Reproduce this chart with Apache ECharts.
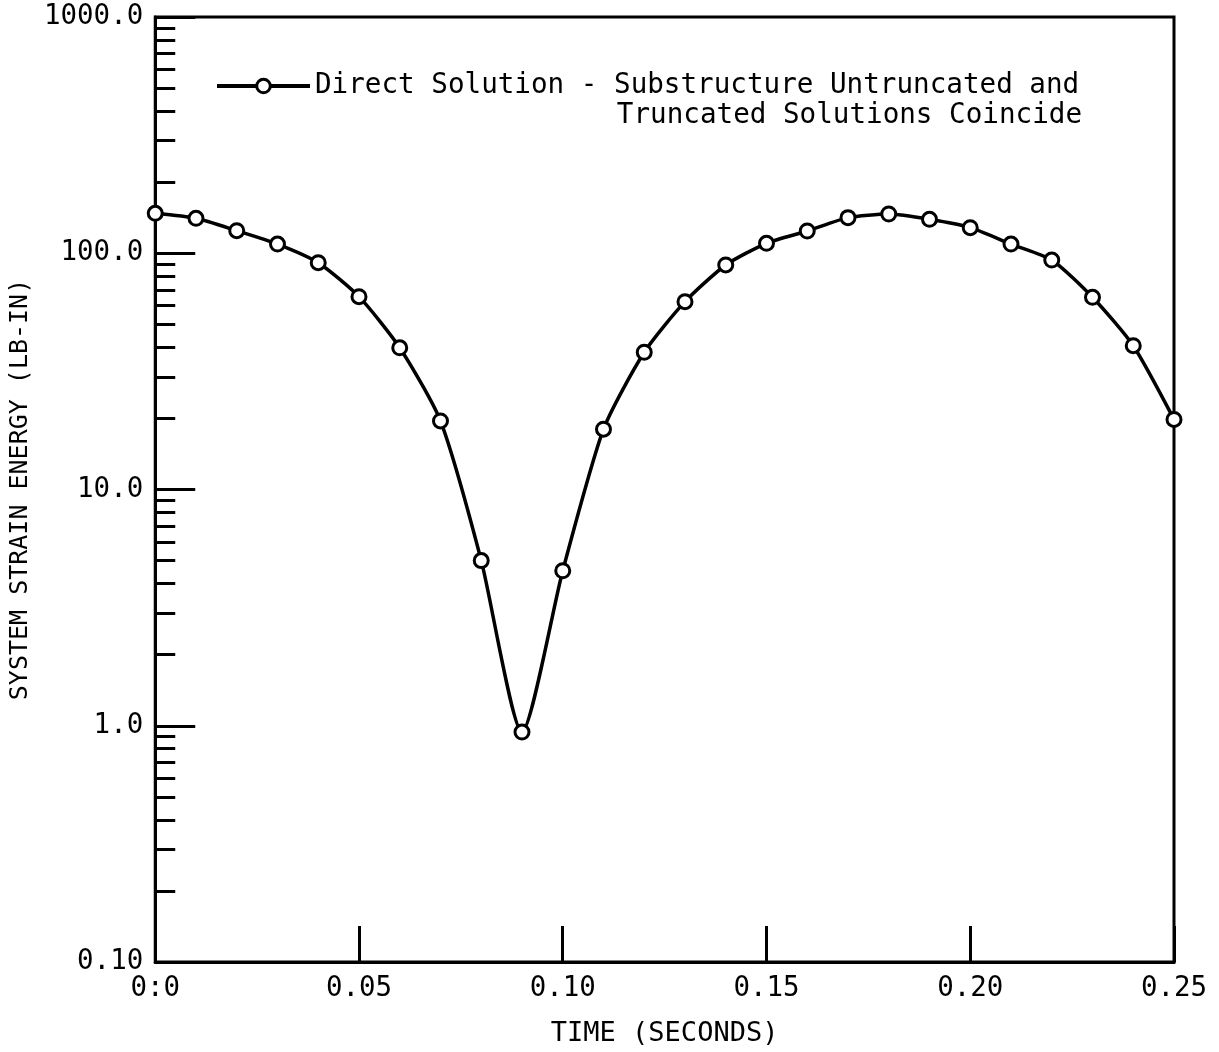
<!DOCTYPE html>
<html>
<head>
<meta charset="utf-8">
<script src="https://cdn.jsdelivr.net/npm/echarts@6/dist/echarts.min.js"></script>
<style>
html,body{margin:0;padding:0;background:#fff;}
#chart{width:1219px;height:1052px;}
</style>
</head>
<body>
<div id="chart"></div>
<script>
// ---- data ----
const timeValues = [0.00,0.01,0.02,0.03,0.04,0.05,0.06,0.07,0.08,0.09,0.10,0.11,0.12,0.13,0.14,0.15,0.16,0.17,0.18,0.19,0.20,0.21,0.22,0.23,0.24,0.25];
const strainEnergy = [147.6,140.6,124.6,109.4,91.2,65.5,39.8,19.5,5.0,0.94,4.53,18.0,38.1,62.4,89.2,110.2,124.2,141.5,146.6,139.2,128.3,109.4,93.6,65.1,40.6,19.8];
const xTickLabels = ['0:0','0.05','0.10','0.15','0.20','0.25'];
const yTickLabels = ['0.10','1.0','10.0','100.0','1000.0'];
const yMinorTicks = [0.2,0.3,0.4,0.5,0.6,0.7,0.8,0.9,2,3,4,5,6,7,8,9,20,30,40,50,60,70,80,90,200,300,400,500,600,700,800,900];
const seriesName = 'Direct Solution - Substructure Untruncated and';
const seriesName2 = 'Truncated Solutions Coincide';
const xAxisName = 'TIME (SECONDS)';
const yAxisName = 'SYSTEM STRAIN ENERGY (LB-IN)';

const FONT = 'DejaVu Sans Mono';
const chart = echarts.init(document.getElementById('chart'));
chart.setOption({
  animation: false,
  backgroundColor: '#fff',
  grid: {left: 152, right: 45, top: 17, bottom: 90, show: true, borderColor: '#000', borderWidth: 3},
  title: {
    text: seriesName2, right: 137, top: 102, padding: 0,
    textStyle: {fontFamily: FONT, fontSize: 27.6, fontWeight: 'normal', color: '#000'}
  },
  legend: {
    left: 215, top: 72, padding: 0, itemWidth: 93, itemHeight: 17, itemGap: 0,
    data: [seriesName],
    lineStyle: {width: 4, color: '#000'},
    itemStyle: {color: '#fff', borderColor: '#000', borderWidth: 3},
    textStyle: {fontFamily: FONT, fontSize: 27.6, color: '#000', padding: [0,0,0,0]}
  },
  xAxis: {
    type: 'value', min: 0, max: 0.25, interval: 0.05,
    name: xAxisName, nameLocation: 'middle', nameGap: 58,
    nameTextStyle: {fontFamily: FONT, fontSize: 27, color: '#000'},
    axisLine: {show: true, lineStyle: {color: '#000', width: 3}},
    axisTick: {show: true, inside: true, length: 36, lineStyle: {color: '#000', width: 3}},
    axisLabel: {
      fontFamily: FONT, fontSize: 27.5, color: '#000', margin: 13,
      formatter: (v, i) => xTickLabels[i]
    },
    splitLine: {show: false}
  },
  yAxis: [{
    type: 'log', logBase: 10, min: 0.1, max: 1000,
    name: yAxisName, nameLocation: 'middle', nameGap: 108, nameRotate: 90,
    nameTextStyle: {fontFamily: FONT, fontSize: 25, color: '#000'},
    axisLine: {show: true, lineStyle: {color: '#000', width: 3}},
    axisTick: {show: true, inside: true, length: 40, lineStyle: {color: '#000', width: 3}},
    axisLabel: {
      fontFamily: FONT, fontSize: 27.5, color: '#000', margin: 12,
      formatter: (v, i) => yTickLabels[i]
    },
    splitLine: {show: false}
  }, {
    type: 'log', logBase: 10, min: 0.1, max: 1000, position: 'left',
    axisLine: {show: false},
    axisTick: {show: true, inside: true, length: 20, customValues: yMinorTicks, lineStyle: {color: '#000', width: 3}},
    axisLabel: {show: false},
    splitLine: {show: false}
  }],
  series: [{
    name: seriesName,
    type: 'line',
    data: timeValues.map((t, i) => [t, strainEnergy[i]]),
    smooth: 0.22,
    symbol: 'circle', symbolSize: 14,
    lineStyle: {color: '#000', width: 3.5},
    itemStyle: {color: '#fff', borderColor: '#000', borderWidth: 3},
    z: 5
  }]
});
</script>
</body>
</html>
